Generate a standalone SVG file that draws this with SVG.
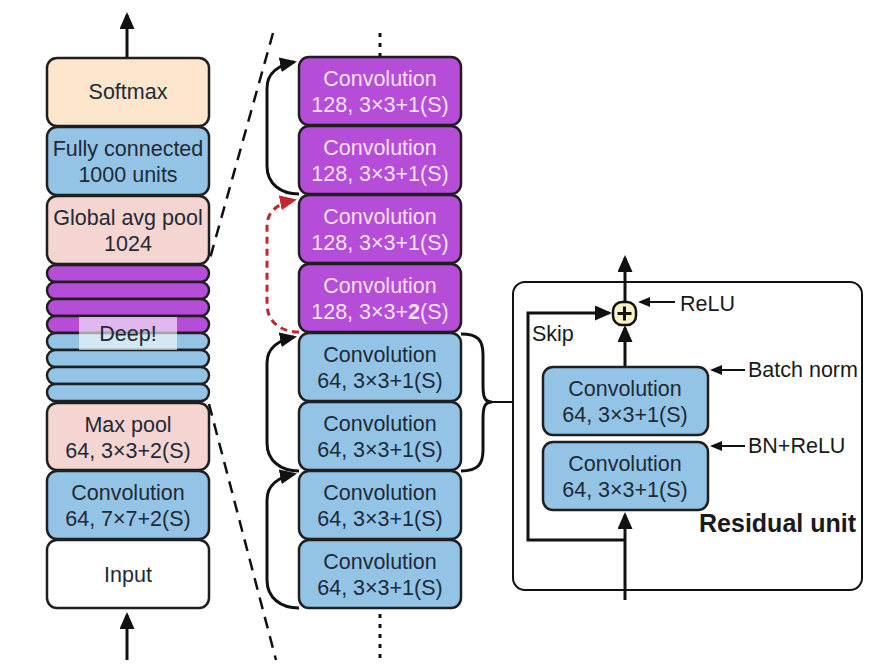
<svg xmlns="http://www.w3.org/2000/svg" width="872" height="664" viewBox="0 0 872 664">
<defs>
<style>
.box{stroke:#1f1f1f;stroke-width:2.5}
.t{font-family:"Liberation Sans",Arial,sans-serif;font-size:21.5px;text-anchor:middle;fill:#1e2a36}
.tp{fill:#f8e2f7}
.lbl{font-family:"Liberation Sans",Arial,sans-serif;font-size:21.5px;fill:#1a1a1a}
.peach{fill:#fde6cb}
.blue{fill:#93c4e6}
.pink{fill:#f4d5d2}
.purple{fill:#b54dd9}
.white{fill:#ffffff}
.ln{fill:none;stroke:#111;stroke-width:3}
.thin{fill:none;stroke:#111;stroke-width:2}
</style>
<marker id="ah" markerWidth="17" markerHeight="15" refX="14" refY="7.5" orient="auto" markerUnits="userSpaceOnUse"><path d="M0,0 L17,7.5 L0,15 z" fill="#111"/></marker>
<marker id="ahr" markerWidth="17" markerHeight="15" refX="14" refY="7.5" orient="auto" markerUnits="userSpaceOnUse"><path d="M0,0 L17,7.5 L0,15 z" fill="#c4262e"/></marker>
<marker id="ahs" markerWidth="12" markerHeight="10" refX="10" refY="5" orient="auto" markerUnits="userSpaceOnUse"><path d="M0,0 L12,5 L0,10 z" fill="#111"/></marker>
</defs>
<rect width="872" height="664" fill="#ffffff"/>

<g id="connectors">
<path class="ln" d="M127,58 L127,15" marker-end="url(#ah)"/>
<path class="ln" d="M127,660 L127,615" marker-end="url(#ah)"/>
<path fill="none" stroke="#111" stroke-width="2.5" stroke-dasharray="12,8" d="M273,33 L209,262"/>
<path fill="none" stroke="#111" stroke-width="2.5" stroke-dasharray="12,8" d="M209,404 L276,660"/>
<path fill="none" stroke="#111" stroke-width="3" stroke-dasharray="4,6" d="M380,33 L380,56"/>
<path fill="none" stroke="#111" stroke-width="3" stroke-dasharray="4,6" d="M380,614 L380,660"/>
<path class="ln" d="M299,608 C281,608 267,598 267,580 L267,500 C267,485 279,477 294,474" marker-end="url(#ah)"/>
<path class="ln" d="M299,471 C281,471 267,461 267,443 L267,363 C267,348 279,340 294,337" marker-end="url(#ah)"/>
<path fill="none" stroke="#c4262e" stroke-width="3" stroke-dasharray="7,5" d="M299,332 C281,332 267,322 267,304 L267,226 C267,211 279,203 294,200" marker-end="url(#ahr)"/>
<path class="ln" d="M299,194 C281,194 267,184 267,166 L267,88 C267,73 279,65 294,62" marker-end="url(#ah)"/>
<path class="ln" d="M461,334 C478,334 483,340 483,355 L483,385 C483,396 484,402 492,402 C484,402 483,408 483,420 L483,450 C483,464 478,471 461,471"/>
<path class="thin" d="M490,402 L513,402"/>
<path class="ln" d="M625,303 L625,258" marker-end="url(#ah)"/>
<path class="ln" d="M625,367 L625,328" marker-end="url(#ah)"/>
<path class="ln" d="M625,600 L625,515" marker-end="url(#ah)"/>
<path class="ln" d="M625,540 L528,540 L528,313 L609,313" marker-end="url(#ah)"/>
<path class="thin" d="M675,302 L640,302" marker-end="url(#ahs)"/>
<path class="thin" d="M745,370 L712,370" marker-end="url(#ahs)"/>
<path class="thin" d="M745,446 L712,446" marker-end="url(#ahs)"/>
</g>

<g id="softmax"><rect class="box peach" x="47" y="58" width="162" height="68" rx="10"/><text class="t" x="128" y="99">Softmax</text></g>
<g id="fc"><rect class="box blue" x="47" y="127" width="162" height="68" rx="10"/><text class="t" x="128" y="156">Fully connected</text><text class="t" x="128" y="182">1000 units</text></g>
<g id="gap"><rect class="box pink" x="47" y="196" width="162" height="68" rx="10"/><text class="t" x="128" y="225">Global avg pool</text><text class="t" x="128" y="251">1024</text></g>
<g id="deep-stack">
<rect class="box purple" x="47" y="265" width="162" height="17" rx="8.5"/>
<rect class="box purple" x="47" y="282" width="162" height="17" rx="8.5"/>
<rect class="box purple" x="47" y="299" width="162" height="17" rx="8.5"/>
<rect class="box purple" x="47" y="316" width="162" height="17" rx="8.5"/>
<rect class="box blue" x="47" y="333" width="162" height="17" rx="8.5"/>
<rect class="box blue" x="47" y="350" width="162" height="17" rx="8.5"/>
<rect class="box blue" x="47" y="367" width="162" height="17" rx="8.5"/>
<rect class="box blue" x="47" y="384" width="162" height="17" rx="8.5"/>
<rect x="79" y="317" width="98" height="33" fill="#ffffff" fill-opacity="0.6"/>
<text class="t" x="128" y="341">Deep!</text>
</g>
<g id="maxpool"><rect class="box pink" x="47" y="403" width="162" height="67" rx="10"/><text class="t" x="128" y="432">Max pool</text><text class="t" x="128" y="458">64, 3×3+2(S)</text></g>
<g id="conv7"><rect class="box blue" x="47" y="471" width="162" height="68" rx="10"/><text class="t" x="128" y="500">Convolution</text><text class="t" x="128" y="526">64, 7×7+2(S)</text></g>
<g id="input"><rect class="box white" x="47" y="540" width="162" height="68" rx="10"/><text class="t" x="128" y="582">Input</text></g>

<g id="m1"><rect class="box purple" x="299" y="57" width="162" height="68" rx="10"/><text class="t tp" x="380" y="86">Convolution</text><text class="t tp" x="380" y="112">128, 3×3+1(S)</text></g>
<g id="m2"><rect class="box purple" x="299" y="126" width="162" height="68" rx="10"/><text class="t tp" x="380" y="155">Convolution</text><text class="t tp" x="380" y="181">128, 3×3+1(S)</text></g>
<g id="m3"><rect class="box purple" x="299" y="195" width="162" height="68" rx="10"/><text class="t tp" x="380" y="224">Convolution</text><text class="t tp" x="380" y="250">128, 3×3+1(S)</text></g>
<g id="m4"><rect class="box purple" x="299" y="264" width="162" height="68" rx="10"/><text class="t tp" x="380" y="293">Convolution</text><text class="t tp" x="380" y="319">128, 3×3+<tspan font-weight="bold">2</tspan>(S)</text></g>
<g id="m5"><rect class="box blue" x="299" y="333" width="162" height="68" rx="10"/><text class="t" x="380" y="362">Convolution</text><text class="t" x="380" y="388">64, 3×3+1(S)</text></g>
<g id="m6"><rect class="box blue" x="299" y="402" width="162" height="68" rx="10"/><text class="t" x="380" y="431">Convolution</text><text class="t" x="380" y="457">64, 3×3+1(S)</text></g>
<g id="m7"><rect class="box blue" x="299" y="471" width="162" height="68" rx="10"/><text class="t" x="380" y="500">Convolution</text><text class="t" x="380" y="526">64, 3×3+1(S)</text></g>
<g id="m8"><rect class="box blue" x="299" y="540" width="162" height="68" rx="10"/><text class="t" x="380" y="569">Convolution</text><text class="t" x="380" y="595">64, 3×3+1(S)</text></g>

<g id="residual-unit">
<rect x="513" y="282" width="349" height="308" rx="12" fill="none" stroke="#111" stroke-width="2"/>
<text class="lbl" x="856" y="532" text-anchor="end" font-weight="bold" style="font-size:25px">Residual unit</text>
<text class="lbl" x="532" y="341">Skip</text>
<text class="lbl" x="680" y="311">ReLU</text>
<text class="lbl" x="748" y="377">Batch norm</text>
<text class="lbl" x="748" y="453">BN+ReLU</text>
</g>
<g id="r-conv1"><rect class="box blue" x="543" y="367" width="165" height="68" rx="10"/><text class="t" x="625" y="396">Convolution</text><text class="t" x="625" y="422">64, 3×3+1(S)</text></g>
<g id="r-conv2"><rect class="box blue" x="543" y="442" width="165" height="68" rx="10"/><text class="t" x="625" y="471">Convolution</text><text class="t" x="625" y="497">64, 3×3+1(S)</text></g>
<g id="add"><rect x="613" y="302" width="23" height="23" rx="9" fill="#f8f2c6" stroke="#111" stroke-width="2.5"/><path d="M624.5,306.5 L624.5,320.5 M617.5,313.5 L631.5,313.5" stroke="#111" stroke-width="3"/></g>
</svg>
